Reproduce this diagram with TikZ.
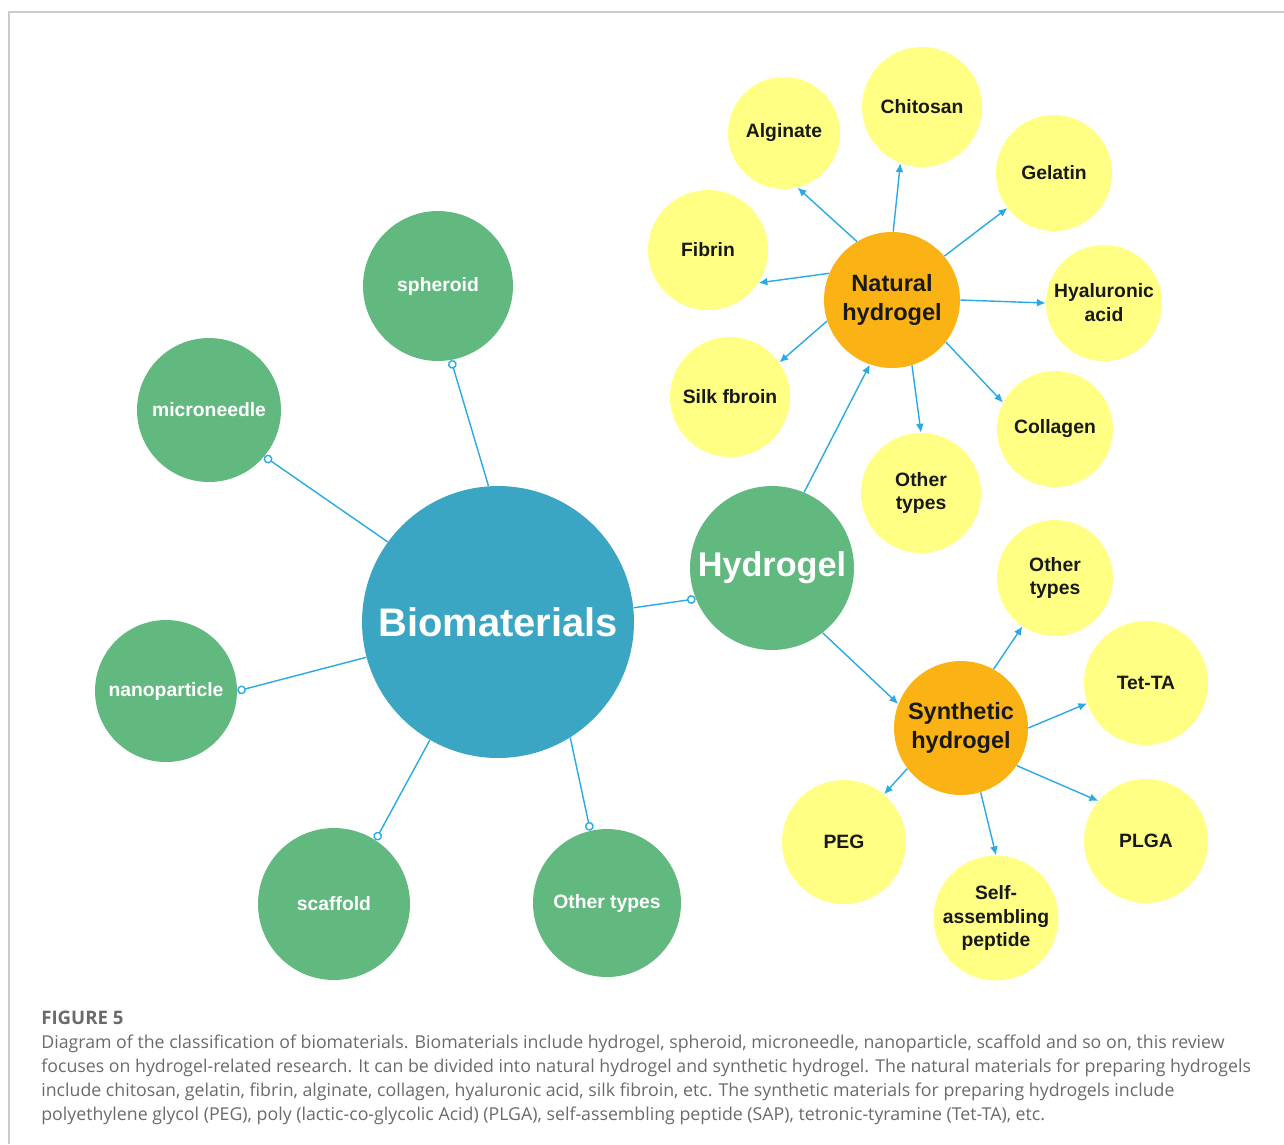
\documentclass[tikz,border=0pt]{standalone}
\usepackage{fontspec}
\setmainfont{Liberation Sans}
\newfontfamily\capfont{Open Sans}
\usepackage{tikz}
\usetikzlibrary{arrows.meta}
\definecolor{bioblue}{HTML}{3AA6C4}
\definecolor{leafgreen}{HTML}{62B980}
\definecolor{amber}{HTML}{FBB214}
\definecolor{paleyellow}{HTML}{FFFF84}
\definecolor{linkblue}{HTML}{29ABE2}
\definecolor{capgray}{HTML}{6A6A6A}

\begin{document}
\begin{tikzpicture}[x=0.02cm,y=-0.02cm,>={Latex[length=5pt,width=4.5pt]}]
\useasboundingbox (0,0) rectangle (1284,1144);
\draw[black!20,line width=0.6pt] (1284,12) -- (9,12) -- (9,1144);
\tikzstyle{bubble} = [circle, inner sep=0pt, align=center]
\tikzstyle{core} = [bubble, fill=bioblue, text=white, font=\bfseries\fontsize{22.7pt}{26pt}\selectfont]
\tikzstyle{kind} = [bubble, fill=leafgreen, text=white, font=\bfseries\fontsize{11pt}{13.6pt}\selectfont]
\tikzstyle{gel} = [bubble, fill=amber, text=black!90, font=\bfseries\fontsize{13.4pt}{16.4pt}\selectfont]
\tikzstyle{material} = [bubble, fill=paleyellow, text=black!90, font=\bfseries\fontsize{11pt}{13.6pt}\selectfont]
\tikzstyle{link} = [draw=linkblue, line width=0.8pt]
%Creating the bubbles
\node at (498,622) [core,minimum size=5.44cm] (bio) {Biomaterials};
\node at (772,568) [kind,minimum size=3.28cm,font=\bfseries\fontsize{19.5pt}{22pt}\selectfont] (hydrogel) {Hydrogel};
\node at (438,286) [kind,minimum size=3cm] (spheroid) {spheroid};
\node at (209,410) [kind,minimum size=2.88cm] (needle) {microneedle};
\node at (166,691) [kind,minimum size=2.84cm] (nano) {nanoparticle};
\node at (334,904) [kind,minimum size=3.04cm] (scaffold) {scaffold};
\node at (607,903) [kind,minimum size=2.96cm] (otherkind) {Other types};
\node at (892,300) [gel,minimum size=2.72cm] (natural) {Natural\\hydrogel};
\node at (961,728) [gel,minimum size=2.68cm] (synthetic) {Synthetic\\hydrogel};
%natural materials
\node at (922,107) [material,minimum size=2.4cm] (chitosan) {Chitosan};
\node at (784,133) [material,minimum size=2.24cm] (alginate) {Alginate};
\node at (1054,173) [material,minimum size=2.32cm] (gelatin) {Gelatin};
\node at (708,250) [material,minimum size=2.4cm] (fibrin) {Fibrin};
\node at (1104,303) [material,minimum size=2.32cm] (hyaluronic) {Hyaluronic\\acid};
\node at (730,397) [material,minimum size=2.4cm] (silk) {Silk fbroin};
\node at (1055,429) [material,minimum size=2.32cm] (collagen) {Collagen};
\node at (921,493) [material,minimum size=2.4cm] (othernat) {Other\\types};
%synthetic materials
\node at (1055,578) [material,minimum size=2.32cm] (othersyn) {Other\\types};
\node at (1146,683) [material,minimum size=2.48cm] (tetta) {Tet-TA};
\node at (1146,841) [material,minimum size=2.48cm] (plga) {PLGA};
\node at (844,842) [material,minimum size=2.48cm] (peg) {PEG};
\node at (996,918) [material,minimum size=2.44cm] (sap) {Self-\\assembling\\peptide};
%caption
\node at (41,1024) [anchor=base west,inner sep=0pt,text=capgray,font=\capfont\bfseries\fontsize{10.6pt}{12pt}\selectfont] (figlabel) {FIGURE 5};
\node at (41,1120) [anchor=base west,inner sep=0pt,align=left,text=capgray,font=\capfont\fontsize{10.1pt}{13.6pt}\selectfont] (caption) {Diagram of the classification of biomaterials. Biomaterials include hydrogel, spheroid, microneedle, nanoparticle, scaffold and so on, this review\\
focuses on hydrogel-related research. It can be divided into natural hydrogel and synthetic hydrogel. The natural materials for preparing hydrogels\\
include chitosan, gelatin, fibrin, alginate, collagen, hyaluronic acid, silk fibroin, etc. The synthetic materials for preparing hydrogels include\\
polyethylene glycol (PEG), poly (lactic-co-glycolic Acid) (PLGA), self-assembling peptide (SAP), tetronic-tyramine (Tet-TA), etc.};
\begin{scope}[link,-{Circle[open,length=5pt,width=5pt]}]
\draw (bio.94) -- (spheroid.-80);
\draw (bio.144.5) -- (needle.-40.6);
\draw (bio.195.4) -- (nano.0);
\draw (bio.240.2) -- (scaffold.57.8);
\draw (bio.-58.5) -- (otherkind.103);
\draw (bio.6.7) -- (hydrogel.202.3);
\end{scope}
\begin{scope}[link,->]
\draw (hydrogel.67.2) -- (natural.251);
\draw (hydrogel.-52.9) -- (synthetic.159.6);
\draw (natural.121.8) -- (alginate.-76.5);
\draw (natural.89) -- (chitosan.249.8);
\draw (natural.40.9) -- (gelatin.217.9);
\draw (natural.157.6) -- (fibrin.-33.2);
\draw (natural.0) -- (hyaluronic.180);
\draw (natural.198) -- (silk.35.5);
\draw (natural.-38.5) -- (collagen.153.4);
\draw (natural.-73.4) -- (othernat.90);
\draw (synthetic.61.9) -- (othersyn.236);
\draw (synthetic.-0.8) -- (tetta.199.3);
\draw (synthetic.-34.4) -- (plga.140.2);
\draw (synthetic.217.7) -- (peg.50.9);
\draw (synthetic.-73.1) -- (sap.90);
\end{scope}
\end{tikzpicture}
\end{document}
